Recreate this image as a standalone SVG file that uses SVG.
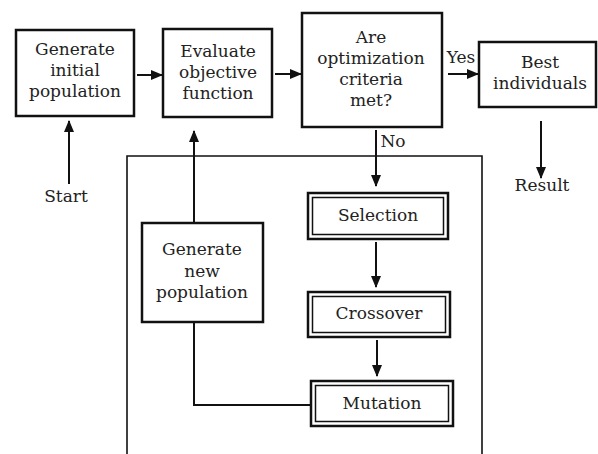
<svg xmlns="http://www.w3.org/2000/svg" width="598" height="454" viewBox="0 0 598 454">
<defs>
<marker id="ah" markerUnits="userSpaceOnUse" markerWidth="12" markerHeight="10" refX="11" refY="5" orient="auto">
<path d="M0,0 L12,5 L0,10 Z" fill="#111"/>
</marker>
<style>
text{font-family:"DejaVu Serif","Liberation Serif",serif;font-size:17px;fill:#222;text-anchor:middle}
.box{fill:#fff;stroke:#111;stroke-width:2.5}
.thin{fill:none;stroke:#111;stroke-width:1.6}
.dbl-in{fill:none;stroke:#111;stroke-width:1.5}
.con{fill:none;stroke:#111;stroke-width:2}
.conh{fill:none;stroke:#111;stroke-width:2;marker-end:url(#ah)}
</style>
</defs>
<rect width="598" height="454" fill="#fff"/>
<g id="loop-frame">
<path class="thin" d="M127,460 V156 H482 V460"/>
</g>
<g id="connectors">
<line class="conh" x1="137" y1="75" x2="162" y2="75"/>
<line class="conh" x1="275" y1="74" x2="301" y2="74"/>
<line class="conh" x1="448" y1="74" x2="478" y2="74"/>
<line class="conh" x1="69" y1="184" x2="69" y2="121"/>
<line class="conh" x1="541" y1="121" x2="541" y2="178"/>
<line class="conh" x1="376" y1="130" x2="376" y2="186"/>
<line class="conh" x1="376" y1="242" x2="376" y2="287"/>
<line class="conh" x1="377" y1="340" x2="377" y2="376"/>
<line class="conh" x1="194" y1="223" x2="194" y2="131"/>
<path class="con" d="M311,405 H194 V322"/>
<text x="461" y="63">Yes</text>
<text x="393" y="147">No</text>
</g>
<g id="start">
<text x="66" y="202">Start</text>
</g>
<g id="result">
<text x="542" y="191">Result</text>
</g>
<g id="gen-init">
<rect class="box" x="16" y="30" width="118" height="86"/>
<text x="75" y="55">Generate</text>
<text x="75" y="76">initial</text>
<text x="75" y="97">population</text>
</g>
<g id="evaluate">
<rect class="box" x="163" y="29" width="109" height="88"/>
<text x="218" y="57">Evaluate</text>
<text x="218" y="78">objective</text>
<text x="218" y="99">function</text>
</g>
<g id="criteria">
<rect class="box" x="302" y="13" width="140" height="114"/>
<text x="371" y="43">Are</text>
<text x="371" y="64">optimization</text>
<text x="371" y="85">criteria</text>
<text x="371" y="106">met?</text>
</g>
<g id="best">
<rect class="box" x="479" y="42" width="117" height="65"/>
<text x="540" y="68">Best</text>
<text x="540" y="89">individuals</text>
</g>
<g id="gen-new">
<rect class="box" x="142" y="223" width="121" height="99" stroke-width="2"/>
<text x="202" y="255">Generate</text>
<text x="202" y="277">new</text>
<text x="202" y="298">population</text>
</g>
<g id="selection">
<rect class="box" x="308" y="193" width="140" height="46"/>
<rect class="dbl-in" x="312.5" y="197.5" width="131" height="37"/>
<text x="378" y="221">Selection</text>
</g>
<g id="crossover">
<rect class="box" x="308" y="292" width="142" height="45"/>
<rect class="dbl-in" x="312.5" y="296.5" width="133" height="36"/>
<text x="379" y="319">Crossover</text>
</g>
<g id="mutation">
<rect class="box" x="311" y="381" width="142" height="45"/>
<rect class="dbl-in" x="315.5" y="385.5" width="133" height="36"/>
<text x="382" y="409">Mutation</text>
</g>
</svg>
